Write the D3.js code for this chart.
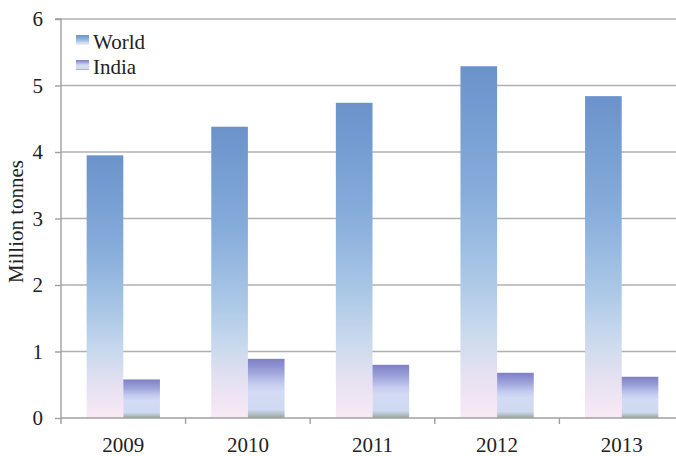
<!DOCTYPE html>
<html><head><meta charset="utf-8">
<script src="https://cdn.jsdelivr.net/npm/d3@7"></script>
<style>body{margin:0;background:#fff}svg{display:block}</style>
</head><body>
<svg id="c" width="676" height="456"></svg>
<script>
const categories = ["2009","2010","2011","2012","2013"];
const seriesNames = ["World","India"];
const worldValues = [3.95, 4.38, 4.74, 5.29, 4.84];
const indiaValues = [0.58, 0.89, 0.80, 0.68, 0.62];
const yTicks = [0,1,2,3,4,5,6];

const svg = d3.select("#c");
const font = "Liberation Serif";
const fs = 21;
const x0 = 61, x1 = 684, yTop = 19, yBot = 418;

const defs = svg.append("defs");
const gw = defs.append("linearGradient").attr("id","gw").attr("x1",0).attr("y1",0).attr("x2",0).attr("y2",1);
[[0,"#6b93cb"],[0.35,"#86acdb"],[0.6,"#aac7e6"],[0.75,"#c8d9ed"],[0.88,"#e6e1f1"],[1,"#f9e9f6"]]
  .forEach(([o,c])=>gw.append("stop").attr("offset",o).attr("stop-color",c));
const gi = defs.append("linearGradient").attr("id","gi").attr("x1",0).attr("y1",0).attr("x2",0).attr("y2",1);
[[0,"#7f7fc5"],[0.2,"#9a9fd8"],[0.42,"#c4cbef"],[0.55,"#d2daf4"],[0.86,"#d0d9f2"],[0.93,"#b4c0c8"],[1,"#97a797"]]
  .forEach(([o,c])=>gi.append("stop").attr("offset",o).attr("stop-color",c));

const x = d3.scaleBand().domain(categories).range([x0, x1]).paddingInner(0).paddingOuter(0);
const xs = d3.scaleBand().domain(seriesNames).range([0, x.bandwidth()]).paddingInner(0).paddingOuter(0.7);
const y = d3.scaleLinear().domain([0,6]).range([yBot, yTop]);

// gridlines
svg.append("g").selectAll("line").data(yTicks.filter(d=>d>0)).join("line")
  .attr("x1", x0).attr("x2", 676).attr("y1", d=>y(d)).attr("y2", d=>y(d))
  .attr("stroke","#b0b0b0").attr("stroke-width",1.6);

// bars
const data = [worldValues, indiaValues];
const fills = ["url(#gw)","url(#gi)"];
seriesNames.forEach((s,si)=>{
  svg.append("g").selectAll("rect").data(categories).join("rect")
    .attr("x", (c)=>x(c)+xs(s))
    .attr("width", xs.bandwidth())
    .attr("y", (c,i)=>y(data[si][i]))
    .attr("height", (c,i)=>yBot - y(data[si][i]))
    .attr("fill", fills[si]);
});

// y axis
const ya = d3.axisLeft(y).tickValues(yTicks).tickSize(6).tickPadding(12).tickFormat(d3.format("d"));
const gy = svg.append("g").attr("transform",`translate(${x0},0)`).call(ya);
gy.attr("font-family",font).attr("font-size",fs);
gy.select(".domain").attr("stroke","#a0a0a0").attr("stroke-width",1.4).attr("d",`M-6,${yTop}H0V${yBot+6}`);
gy.selectAll(".tick line").attr("stroke","#a0a0a0").attr("stroke-width",1.4);
gy.selectAll("text").attr("fill","#222");

// x axis
const xa = d3.axisBottom(x).tickSize(0).tickPadding(19);
const gx = svg.append("g").attr("transform",`translate(0,${yBot})`).call(xa);
gx.attr("font-family",font).attr("font-size",fs);
gx.select(".domain").attr("stroke","#a0a0a0").attr("stroke-width",1.6).attr("d",`M${x0},0H676`);
gx.selectAll("text").attr("fill","#222");
// category boundary ticks
svg.append("g").selectAll("line").data(categories.slice(1)).join("line")
  .attr("x1", c=>x(c)).attr("x2", c=>x(c)).attr("y1", yBot).attr("y2", yBot+6)
  .attr("stroke","#a0a0a0").attr("stroke-width",1.4);

// y label
svg.append("text").attr("transform",`translate(23,${(yTop+yBot)/2+3}) rotate(-90)`)
  .attr("text-anchor","middle").attr("font-family",font).attr("font-size",fs).attr("fill","#222")
  .text("Million tonnes");

// legend
const lg = svg.append("g");
seriesNames.forEach((s,i)=>{
  lg.append("rect").attr("x",76).attr("y",35+i*25).attr("width",13).attr("height",10).attr("fill",fills[i]);
  lg.append("text").attr("x",93).attr("y",49+i*24.5).attr("font-family",font).attr("font-size",fs)
    .attr("fill","#222").text(s);
});
</script>
</body></html>
